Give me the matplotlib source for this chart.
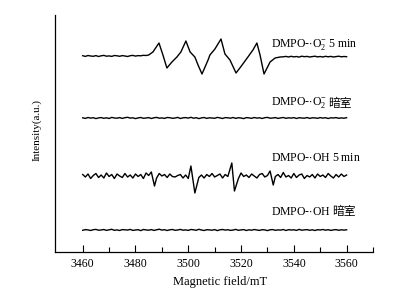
import matplotlib
matplotlib.use("Agg")
import matplotlib.pyplot as plt
import numpy as np

# --- fonts ---
plt.rcParams['font.family'] = ['Liberation Serif', 'DejaVu Serif']
plt.rcParams['mathtext.fontset'] = 'custom'
plt.rcParams['mathtext.rm'] = 'Liberation Serif'
plt.rcParams['mathtext.it'] = 'Liberation Serif:italic'

# --- data (intensity in a.u. relative to each baseline) ---
grid = list(range(3460, 3561))

# DMPO-.O2- 5 min : flat baseline + four derivative lines
o2_left_field = list(range(3460, 3486))
o2_left_val = [0.3, -0.4, 0.5, 0.0, -0.3, 0.4, -0.5, 0.2, 0.6, -0.2,
               0.1, -0.4, 0.5, 0.2, -0.3, 0.4, 0.0, -0.5, 0.3, 0.6,
               -0.1, 0.4, 0.2, 0.7, 0.5, 1.0]
o2_sig_field = [3486.6, 3488.9, 3490.4, 3491.9, 3493.8, 3495.7, 3497.2, 3499.1,
                3500.7, 3502.5, 3503.7, 3505.2, 3507.5, 3508.2, 3510.1, 3512.4,
                3513.9, 3515.8, 3518.1, 3520.4, 3522.6, 3524.5, 3526.0, 3527.2,
                3528.7, 3531.0, 3532.9, 3534.8]
o2_sig_val = [4, 13, 1, -12, -6, -1, 4, 15,
              4, -1, -9, -18, -4, 1, 7, 17,
              2, -4, -17, -9, -1, 6, 13, 1,
              -18, -6, -2, -1]
o2_right_field = list(range(3536, 3561))
o2_right_val = [-0.8, -0.4, -1.0, -0.3, -0.9, -0.5, -1.1, -0.2, -0.7, -0.4,
                -1.0, -0.6, -0.2, -0.9, -0.5, -1.0, -0.3, -0.8, -0.4, -1.0,
                -0.6, -0.2, -0.8, -0.5, -0.7]

# DMPO-.O2- dark
o2_dark_val = [0.2, -0.4, 0.5, -0.1, 0.3, -0.6, 0.1, 0.4, -0.3, 0.2,
               -0.5, 0.6, 0.0, -0.2, 0.4, -0.4, 0.3, 0.7, -0.1, 0.2,
               -0.6, 0.1, 0.5, -0.3, 0.0, 0.4, -0.5, 0.2, 0.6, -0.2,
               0.1, -0.4, 0.5, 0.3, -0.3, 0.0, 0.6, -0.5, 0.2, 0.4,
               -0.1, 0.7, -0.2, 0.3, -0.6, 0.1, 0.5, -0.4, 0.2, 0.0,
               -0.3, 0.6, 0.1, -0.5, 0.4, 0.2, -0.2, 0.5, -0.4, 0.3,
               0.0, -0.6, 0.4, 0.1, -0.3, 0.5, -0.1, 0.2, -0.5, 0.3,
               0.6, -0.2, 0.0, 0.4, -0.4, 0.1, 0.5, -0.3, 0.2, -0.1,
               0.4, -0.5, 0.3, 0.0, -0.2, 0.5, -0.4, 0.2, 0.1, -0.3,
               0.4, -0.1, 0.3, -0.5, 0.2, 0.0, 0.4, -0.3, 0.1, -0.2,
               0.3]

# DMPO-.OH 5 min : noisy baseline + 1:2:2:1 quartet
oh_noise_val = [1.5, -1.0, 2.0, -2.5, 0.5, 2.5, -1.5, 1.0, -2.0, 3.0,
                -0.5, 1.5, -2.5, 2.0, 0.0, -1.5, 2.5, -1.0, 1.0, -2.0,
                2.0, -0.5, 1.5, -2.5, 3.0, 0.5, -1.0, 1.0, -2.0, 2.5,
                0.0, 1.5, -1.5, 2.0, -0.5, -1.0, 0.5, 1.5, -2.0, 1.0,
                -2.5, 2.0, 0.0, 3.0, -1.5, 1.0, -2.0, 1.5, -0.5, 2.5,
                -1.0, 0.5, 2.0, -2.0, 1.5, -0.5, 2.5, -1.5, 1.0, -2.5,
                3.0, -0.5, 1.0, -1.5, 2.0, 0.0, -2.0, 1.5, 2.5, -1.0,
                0.5, -2.5, 2.0, -0.5, 1.5, -1.5, 3.5, -1.0, 0.5, -2.0,
                2.5, -1.5, 1.0, 2.0, -2.5, 0.5, -1.0, 1.5, -2.0, 2.0,
                -0.5, 1.0, -1.5, 2.5, 0.0, -2.0, 1.5, -1.0, 2.0, -0.5,
                1.0]
oh_sig_field = [3486.0, 3487.2, 3501.0, 3502.5, 3516.5, 3517.5, 3531.0, 3532.2]
oh_sig_val = [4, -10, 10, -17, 13, -15, 5, -9]

# DMPO-.OH dark
oh_dark_val = [-0.3, 0.4, 0.1, -0.5, 0.3, 0.6, -0.2, 0.0, 0.5, -0.4,
               0.2, 0.7, -0.3, 0.1, -0.5, 0.4, 0.2, -0.1, 0.6, -0.4,
               0.0, 0.3, -0.6, 0.5, 0.1, -0.2, 0.4, -0.4, 0.2, 0.8,
               -0.1, 0.3, -0.5, 0.2, 0.5, -0.3, 0.0, 0.6, -0.2, 0.1,
               -0.4, 0.5, 0.2, -0.3, 0.7, 0.0, -0.5, 0.3, 0.1, -0.2,
               0.4, -0.6, 0.2, 0.5, -0.1, 0.3, -0.4, 0.0, 0.6, -0.3,
               0.1, 0.4, -0.5, 0.2, -0.2, 0.5, 0.0, -0.4, 0.3, 0.1,
               -0.6, 0.2, 0.4, -0.3, 0.1, -0.1, 0.5, -0.5, 0.3, 0.0,
               0.2, -0.4, 0.6, -0.2, 0.1, 0.4, -0.3, 0.2, -0.5, 0.3,
               0.0, 0.5, -0.2, 0.3, -0.4, 0.1, 0.4, -0.3, 0.2, -0.1,
               0.2]

# --- assemble traces ---
o2_field = o2_left_field + o2_sig_field + o2_right_field
o2_val = o2_left_val + o2_sig_val + o2_right_val

oh_pts = [(f, v) for f, v in zip(grid, oh_noise_val)
          if min(abs(f - s) for s in oh_sig_field) >= 0.75]
oh_pts += list(zip(oh_sig_field, oh_sig_val))
oh_pts.sort()
oh_field = [p[0] for p in oh_pts]
oh_val = [p[1] for p in oh_pts]

# stacking offsets of the four traces
offsets = [196, 134, 76, 22]

# --- plotting ---
fig = plt.figure(figsize=(4.10, 2.95), dpi=100)
ax = fig.add_axes([55 / 410, 43 / 295, 318 / 410, 237 / 295])

lw = 1.0
ax.plot(o2_field, np.array(o2_val) + offsets[0], color='black', lw=lw)
ax.plot(grid, np.array(o2_dark_val) + offsets[1], color='black', lw=lw)
ax.plot(oh_field, np.array(oh_val) + offsets[2], color='black', lw=lw)
ax.plot(grid, np.array(oh_dark_val) + offsets[3], color='black', lw=lw)

# labels of traces
fs = 8.5
cjk = ['Noto Sans CJK SC', 'DejaVu Sans']
ax.text(3531.3, 208, r'DMPO-$\cdot$O$_2^{-}$ 5 min', ha='left', va='center', fontsize=fs)
ax.text(3531.3, 150, r'DMPO-$\cdot$O$_2^{-}$', ha='left', va='center', fontsize=fs)
ax.text(3553.0, 149, '暗室', ha='left', va='center', fontsize=fs, family=cjk)
ax.text(3531.3, 94, r'DMPO-$\cdot$OH 5 min', ha='left', va='center', fontsize=fs)
ax.text(3531.3, 40, r'DMPO-$\cdot$OH', ha='left', va='center', fontsize=fs)
ax.text(3554.6, 40, '暗室', ha='left', va='center', fontsize=fs, family=cjk)

# axes formatting
ax.set_xlim(3449.5, 3570)
ax.set_ylim(0, 237)
ax.spines['top'].set_visible(False)
ax.spines['right'].set_visible(False)
for s in ['left', 'bottom']:
    ax.spines[s].set_linewidth(0.9)
ax.set_xticks([3460, 3480, 3500, 3520, 3540, 3560])
ax.set_xticks([3470, 3490, 3510, 3530, 3550, 3570], minor=True)
ax.set_yticks([])
ax.tick_params(axis='x', which='major', direction='in', length=5, width=0.8,
               labelsize=8.5, pad=4)
ax.tick_params(axis='x', which='minor', direction='in', length=3.5, width=0.8)

ax.set_xlabel('Magnetic field/mT', fontsize=9)
ax.xaxis.set_label_coords(0.519, -0.10)
ax.set_ylabel('Intensity(a.u.)', fontsize=8)
ax.yaxis.set_label_coords(-0.042, 0.515)

fig.savefig('out.png', dpi=100)
